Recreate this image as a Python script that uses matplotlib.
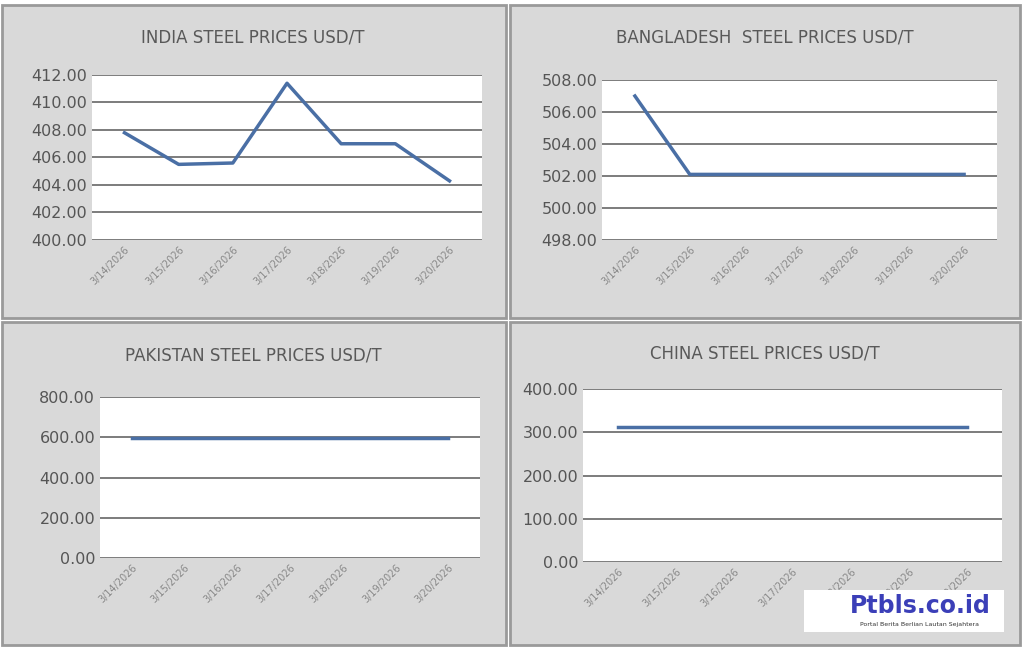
import matplotlib
matplotlib.use("Agg")
import matplotlib.pyplot as plt
from matplotlib.patches import Rectangle

dates = ["3/14/2026","3/15/2026","3/16/2026","3/17/2026","3/18/2026","3/19/2026","3/20/2026"]
india = [407.8, 405.5, 405.6, 411.4, 407.0, 407.0, 404.3]
bangladesh = [507.0, 502.1, 502.1, 502.1, 502.1, 502.1, 502.1]
pakistan = [595, 595, 595, 595, 595, 595, 595]
china = [312, 312, 312, 312, 312, 312, 312]

W, H = 1024, 653
fig = plt.figure(figsize=(W/100, H/100), dpi=100)
fig.patch.set_facecolor("white")

def px(x0, y0, x1, y1):
    return [x0/W, 1-y1/H, (x1-x0)/W, (y1-y0)/H]

for (x0, y0, x1, y1) in [(2,5,506,318),(510,5,1020,318),(2,322,506,645),(510,322,1020,645)]:
    fig.patches.append(Rectangle((x0/W, 1-y1/H), (x1-x0)/W, (y1-y0)/H, transform=fig.transFigure,
                                 facecolor="#d9d9d9", edgecolor="#9a9a9a", lw=2, zorder=-5))

panels = [
    ("INDIA STEEL PRICES USD/T", india, (92,75,482,240), (400,412), [400,402,404,406,408,410,412], (253,38)),
    ("BANGLADESH  STEEL PRICES USD/T", bangladesh, (602,80,997,240), (498,508), [498,500,502,504,506,508], (765,38)),
    ("PAKISTAN STEEL PRICES USD/T", pakistan, (100,397,480,558), (0,800), [0,200,400,600,800], (253,355)),
    ("CHINA STEEL PRICES USD/T", china, (583,389,1002,562), (0,400), [0,100,200,300,400], (765,353)),
]
for title, vals, box, ylim, yt, tpos in panels:
    ax = fig.add_axes(px(*box))
    ax.plot(range(len(dates)), vals, color="#4a6fa5", lw=2.5)
    ax.set_xlim(-0.6, len(dates)-0.4)
    ax.set_ylim(*ylim)
    ax.set_yticks(yt)
    ax.set_yticklabels([f"{v:.2f}" for v in yt], fontsize=11.5, color="#555555")
    ax.set_xticks(range(len(dates)))
    ax.set_xticklabels(dates, rotation=45, ha="right", rotation_mode="anchor", fontsize=7, color="#888888")
    ax.grid(axis="y", color="#666666", lw=1.2)
    ax.set_axisbelow(True)
    for s in ax.spines.values():
        s.set_visible(False)
    ax.tick_params(length=0)
    ax.set_facecolor("white")
    fig.text(tpos[0]/W, 1-tpos[1]/H, title, ha="center", va="center", fontsize=12, color="#595959")

# logo
logo = fig.add_axes(px(804,590,1004,632))
logo.set_facecolor("white")
logo.set_xticks([]); logo.set_yticks([])
for s in logo.spines.values():
    s.set_visible(False)
logo.text(0.58, 0.62, "Ptbls.co.id", ha="center", va="center", fontsize=17, fontweight="bold", color="#3b3fb8", transform=logo.transAxes)
logo.text(0.58, 0.18, "Portal Berita Berlian Lautan Sejahtera", ha="center", va="center", fontsize=4.5, color="#333333", transform=logo.transAxes)

fig.savefig("out.png", dpi=100)
